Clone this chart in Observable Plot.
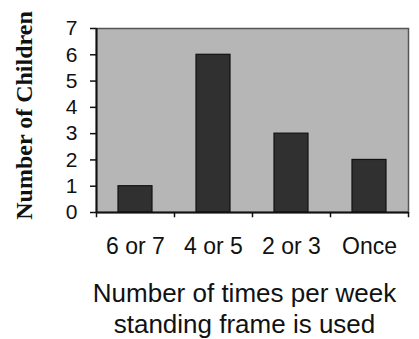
<!DOCTYPE html>
<html><head><meta charset="utf-8">
<script src="https://cdn.jsdelivr.net/npm/d3@7"></script>
<script src="https://cdn.jsdelivr.net/npm/@observablehq/plot@0.6"></script>
<style>body{margin:0;background:#fff}</style>
</head><body><div id="chart"></div>
<script>
const categories = ["6 or 7", "4 or 5", "2 or 3", "Once"];
const counts = [1, 6, 3, 2];
const yTicks = [0, 1, 2, 3, 4, 5, 6, 7];
const yTitle = "Number of Children";
const xTitle = ["Number of times per week", "standing frame is used"];

const data = categories.map((c, i) => ({cat: c, n: counts[i]}));
const W = 419, H = 339, mL = 96, mR = 11, mT = 28, mB = 127;
const step = (W - mL - mR) / categories.length;

const chart = Plot.plot({
  width: W, height: H,
  marginLeft: mL, marginRight: mR, marginTop: mT, marginBottom: mB,
  style: {fontFamily: "Liberation Sans, Arial, sans-serif", color: "#111", background: "#fff"},
  x: {domain: categories, paddingInner: 0.56, paddingOuter: 0.28, label: null},
  y: {domain: [0, 7], ticks: yTicks, label: null},
  marks: [
    Plot.frame({fill: "#b6b6b6", stroke: "#555", strokeWidth: 1.5}),
    Plot.barY(data, {x: "cat", y: "n", fill: "#303030", stroke: "#111", strokeWidth: 1.2}),
    Plot.axisY({ticks: yTicks, tickFormat: "d", tickSize: 6, tickPadding: 13, fontSize: 21, stroke: "#111", strokeWidth: 1.5}),
    Plot.ruleY([0], {stroke: "#111", strokeWidth: 2}),
    Plot.ruleX([categories[0]], {x: d => d, dx: -step / 2, y1: 0, y2: 7, stroke: "#111", strokeWidth: 2}),
    Plot.axisX({tickSize: 0, tickPadding: 25, fontSize: 23}),
    Plot.ruleX(categories, {x: d => d, dx: -step / 2, y1: 0, y2: -0.2, stroke: "#111", strokeWidth: 1.5}),
    Plot.ruleX([categories[categories.length - 1]], {x: d => d, dx: step / 2, y1: 0, y2: -0.2, stroke: "#111", strokeWidth: 1.5}),
    Plot.text([yTitle], {text: d => d, frameAnchor: "left", textAnchor: "middle", lineAnchor: "middle", dx: -72, dy: -5, rotate: -90, fontFamily: "Liberation Serif, Times New Roman, serif", fontWeight: "bold", fontSize: 24, fill: "#111"}),
    Plot.text([xTitle[0]], {text: d => d, frameAnchor: "bottom", lineAnchor: "bottom", dy: 89, dx: -8, fontSize: 26, fill: "#111"}),
    Plot.text([xTitle[1]], {text: d => d, frameAnchor: "bottom", lineAnchor: "bottom", dy: 120, dx: -8, fontSize: 26, fill: "#111"})
  ]
});
document.getElementById("chart").append(chart);
</script></body></html>
